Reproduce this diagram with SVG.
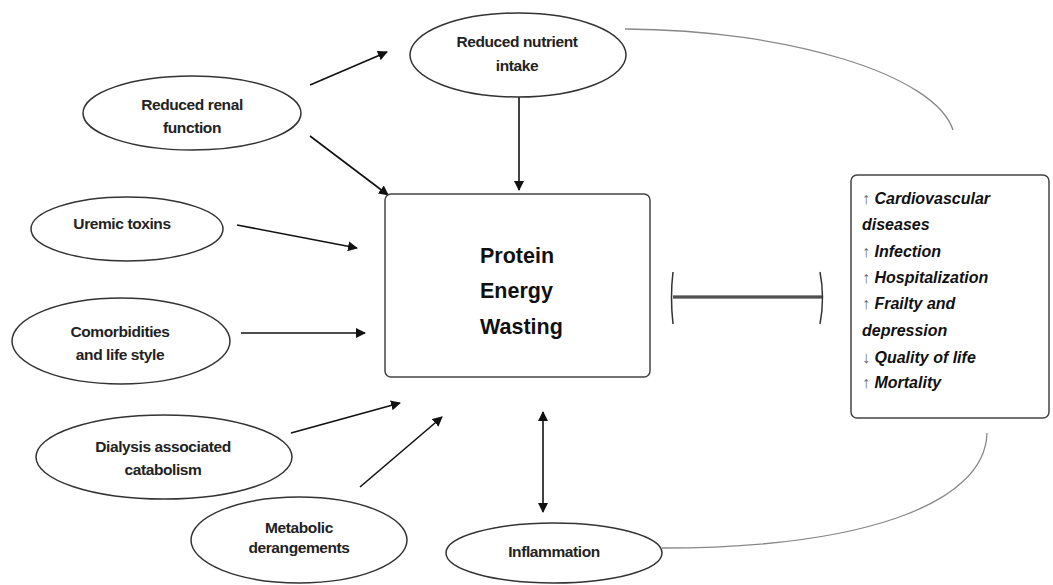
<svg xmlns="http://www.w3.org/2000/svg" width="1053" height="585" viewBox="0 0 1053 585">
<defs>
<marker id="ah" viewBox="0 0 10 10" refX="9" refY="5" markerWidth="10" markerHeight="10" markerUnits="userSpaceOnUse" orient="auto-start-reverse">
<path d="M0,0 L10,5 L0,10 z" fill="#111"/>
</marker>
<style>
.el{fill:#fff;stroke:#333;stroke-width:1.5}
.lb{font-family:"Liberation Sans",Arial,sans-serif;font-weight:bold;font-size:15.5px;fill:#222;text-anchor:middle;letter-spacing:-0.4px}
.ar{stroke:#111;stroke-width:1.6;fill:none;marker-end:url(#ah)}
.cv{stroke:#888;stroke-width:1.3;fill:none}
.rt{font-family:"Liberation Sans",Arial,sans-serif;font-weight:bold;font-style:italic;font-size:16px;fill:#111}
.up{font-style:normal;font-weight:normal;fill:#666}
.pt{font-family:"Liberation Sans",Arial,sans-serif;font-weight:bold;font-size:21.5px;fill:#111}
</style>
</defs>
<rect width="1053" height="585" fill="#fff"/>
<g id="connectors">
<path class="cv" d="M625,29 C790,30 935,75 953,130"/>
<path class="cv" d="M987,433 C985,505 860,548 662,548"/>
<line class="ar" x1="310" y1="85" x2="387" y2="52"/>
<line class="ar" x1="310" y1="136" x2="388" y2="195"/>
<line class="ar" x1="519" y1="97" x2="519" y2="190"/>
<line class="ar" x1="237" y1="225" x2="357" y2="248"/>
<line class="ar" x1="241" y1="333" x2="365" y2="333"/>
<line class="ar" x1="291" y1="433" x2="400" y2="403"/>
<line class="ar" x1="360" y1="487" x2="442" y2="417"/>
<line class="ar" x1="543" y1="412" x2="543" y2="512" style="marker-start:url(#ah)"/>
<g id="blunt">
<line x1="673" y1="297" x2="822" y2="297" stroke="#222" stroke-width="3"/>
<line x1="673" y1="297" x2="822" y2="297" stroke="#999" stroke-width="0.8"/>
<path d="M673,272 Q670,297 673,324" stroke="#333" stroke-width="1.5" fill="none"/>
<path d="M820,272 Q825,297 820,324" stroke="#333" stroke-width="1.5" fill="none"/>
</g>
</g>
<g id="nutrient">
<ellipse class="el" cx="518" cy="55" rx="108" ry="42"/>
<text class="lb" x="517" y="47">Reduced nutrient</text>
<text class="lb" x="517" y="71">intake</text>
</g>
<g id="renal">
<ellipse class="el" cx="192" cy="113" rx="109" ry="37"/>
<text class="lb" x="192" y="110">Reduced renal</text>
<text class="lb" x="192" y="133">function</text>
</g>
<g id="uremic">
<ellipse class="el" cx="127" cy="229" rx="96" ry="32"/>
<text class="lb" x="122" y="229">Uremic toxins</text>
</g>
<g id="comorb">
<ellipse class="el" cx="121" cy="341" rx="109" ry="43"/>
<text class="lb" x="120" y="337">Comorbidities</text>
<text class="lb" x="120" y="360">and life style</text>
</g>
<g id="dialysis">
<ellipse class="el" cx="164" cy="457" rx="128" ry="42"/>
<text class="lb" x="163" y="452">Dialysis associated</text>
<text class="lb" x="163" y="475">catabolism</text>
</g>
<g id="metabolic">
<ellipse class="el" cx="299" cy="540" rx="108" ry="43"/>
<text class="lb" x="299" y="533">Metabolic</text>
<text class="lb" x="299" y="553">derangements</text>
</g>
<g id="inflammation">
<ellipse class="el" cx="554" cy="553" rx="108" ry="30"/>
<text class="lb" x="554" y="557">Inflammation</text>
</g>
<g id="pew">
<rect x="385" y="194" width="265" height="183" rx="6" fill="#fff" stroke="#444" stroke-width="1.5"/>
<text class="pt" x="480" y="263">Protein</text>
<text class="pt" x="480" y="298">Energy</text>
<text class="pt" x="480" y="334">Wasting</text>
</g>
<g id="outcomes">
<rect x="851" y="175" width="198" height="243" rx="6" fill="#fff" stroke="#444" stroke-width="1.5"/>
<text class="rt" x="862" y="204"><tspan class="up">↑</tspan> Cardiovascular</text>
<text class="rt" x="862" y="230">diseases</text>
<text class="rt" x="862" y="257"><tspan class="up">↑</tspan> Infection</text>
<text class="rt" x="862" y="283"><tspan class="up">↑</tspan> Hospitalization</text>
<text class="rt" x="862" y="309"><tspan class="up">↑</tspan> Frailty and</text>
<text class="rt" x="862" y="336">depression</text>
<text class="rt" x="862" y="363"><tspan class="up">↓</tspan> Quality of life</text>
<text class="rt" x="862" y="388"><tspan class="up">↑</tspan> Mortality</text>
</g>
</svg>
